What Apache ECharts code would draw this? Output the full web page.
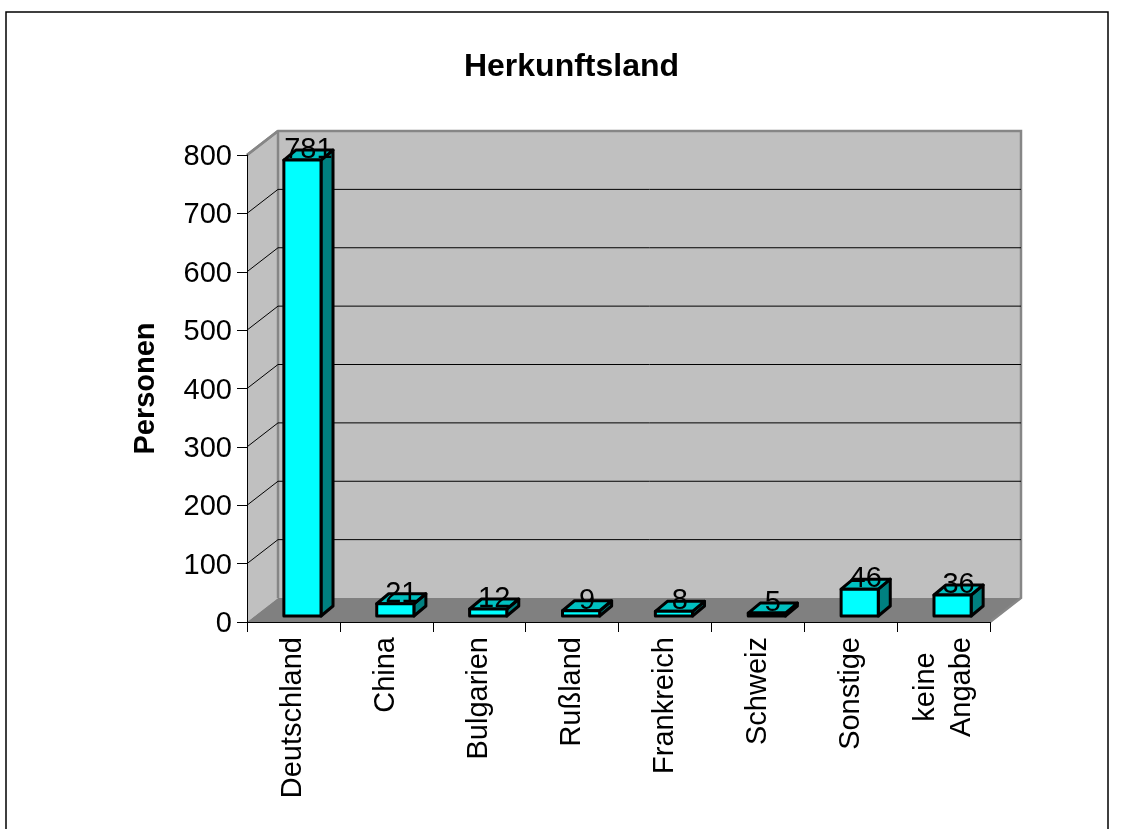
<!DOCTYPE html>
<html><head><meta charset="utf-8">
<style>html,body{margin:0;padding:0;background:#fff}#c{width:1124px;height:829px}</style>
<script src="https://cdn.jsdelivr.net/npm/echarts@6/dist/echarts.min.js"></script>
</head><body><div id="c"></div>
<script>
const categories = ['Deutschland','China','Bulgarien','Rußland','Frankreich','Schweiz','Sonstige','keine\nAngabe'];
const personen = [781,21,12,9,8,5,46,36];
const yTicks = [100,200,300,400,500,600,700,800];
const FONT = '"Liberation Sans", Arial, sans-serif';
const DX = 31, DY = -24;          // depth of the 3D box
const BAR_DX = 12, BAR_DY = -10;  // depth of a bar
const BAR_OX = 9, BAR_OY = -6;    // how far back the bars stand
const BAR_WIDTH = 0.40;

function poly(points, fill, stroke, lw) {
  return {type:'polygon', shape:{points}, style:{fill, stroke:stroke||null, lineWidth:lw||0, lineJoin:'round'}};
}
const chart = echarts.init(document.getElementById('c'), null, {renderer:'canvas'});
chart.setOption({
  animation:false,
  backgroundColor:'#fff',
  title:{text:'Herkunftsland', left:571.5, top:51, padding:0, textAlign:'center',
    textStyle:{fontFamily:FONT,fontWeight:'bold',fontSize:32,color:'#000'}},
  grid:{left:247, top:155, width:743, height:467, containLabel:false},
  xAxis:{type:'category', data:categories, z:5,
    axisLine:{lineStyle:{color:'#000',width:1}},
    axisTick:{show:true,length:10,lineStyle:{color:'#000',width:1}},
    axisLabel:{rotate:90,interval:0,margin:15,align:'right',verticalAlign:'middle',
      formatter:v=>v.split('\n').map(s=>'{c|'+s+'}').join('\n'),
      rich:{c:{align:'center',fontFamily:FONT,fontSize:29,lineHeight:36,color:'#000'}},
      fontFamily:FONT,fontSize:29,lineHeight:36,color:'#000',hideOverlap:false},
    splitLine:{show:false}},
  yAxis:{type:'value', min:0, max:800, interval:100, z:5,
    name:'Personen', nameLocation:'middle', nameGap:87, nameRotate:90,
    nameTextStyle:{fontFamily:FONT,fontWeight:'bold',fontSize:29,color:'#000'},
    axisLine:{show:true,lineStyle:{color:'#000',width:1}},
    axisTick:{show:true,length:10,lineStyle:{color:'#000',width:1}},
    axisLabel:{margin:15,verticalAlign:'top',lineHeight:4,fontFamily:FONT,fontSize:29,color:'#000'},
    splitLine:{show:false}},
  graphic:[{type:'polyline',z:0,silent:true,
    shape:{points:[[6,829],[6,12],[1108,12],[1108,829]]},
    style:{fill:null,stroke:'#000',lineWidth:1.5}}],
  series:[
    {type:'custom', z:1, silent:true, data:[0], clip:false,
      renderItem(params){
        const c = params.coordSys, L=c.x, R=c.x+c.width, T=c.y, B=c.y+c.height;
        const gray='#868686';
        return {type:'group',children:[
          poly([[L,T],[L+DX,T+DY],[L+DX,B+DY],[L,B]],'#c0c0c0'),
          poly([[L+DX,T+DY],[R+DX,T+DY],[R+DX,B+DY],[L+DX,B+DY]],'#c0c0c0'),
          poly([[L,B],[L+DX,B+DY],[R+DX,B+DY],[R,B]],'#808080'),
          {type:'polyline',shape:{points:[[L,T],[L+DX,T+DY],[R+DX,T+DY],[R+DX,B+DY],[R,B]]},style:{fill:null,stroke:gray,lineWidth:2.5}},
          {type:'line',shape:{x1:L+DX,y1:T+DY,x2:L+DX,y2:B+DY},style:{stroke:gray,lineWidth:2.5}}
        ]};
      }},
    {type:'custom', z:2, silent:true, data:yTicks, clip:false,
      encode:{y:0},
      renderItem(params,api){
        const c = params.coordSys, v = api.value(0);
        const y = api.coord([0,v])[1], L=c.x, R=c.x+c.width;
        const top = v===800;
        return {type:'polyline',shape:{points: top?[[L,y],[L+DX,y+DY]]:[[L,y],[L+DX,y+DY],[R+DX,y+DY]]},
          style:{fill:null,stroke:top?'#868686':'#000',lineWidth:top?2.5:1}};
      }},
    {type:'custom', name:'Personen', z:6, silent:true, clip:false,
      data:personen.map((v,i)=>[i,v]), encode:{x:0,y:1},
      renderItem(params,api){
        const c = api.coord([api.value(0),api.value(1)]);
        const base = api.coord([api.value(0),0])[1];
        const band = api.size([1,0])[0];
        const w = band*BAR_WIDTH;
        const x0 = c[0]-w/2+BAR_OX, x1 = x0+w, yT = c[1]+BAR_OY, yB = base+BAR_OY;
        const lw=3, k='#000';
        return {type:'group',children:[
          poly([[x1,yT],[x1+BAR_DX,yT+BAR_DY],[x1+BAR_DX,yB+BAR_DY],[x1,yB]],'#008080',k,lw),
          poly([[x0,yT],[x0+BAR_DX,yT+BAR_DY],[x1+BAR_DX,yT+BAR_DY],[x1,yT]],'#00c0c0',k,lw),
          poly([[x0,yT],[x1,yT],[x1,yB],[x0,yB]],'#00ffff',k,lw),
          {type:'text',z2:10,style:{text:String(api.value(1)),x:(x0+x1+BAR_DX)/2,y:yT+BAR_DY,
            align:'center',verticalAlign:'middle',fontFamily:FONT,fontSize:29,fill:'#000'}}
        ]};
      }}
  ]
});
</script></body></html>
